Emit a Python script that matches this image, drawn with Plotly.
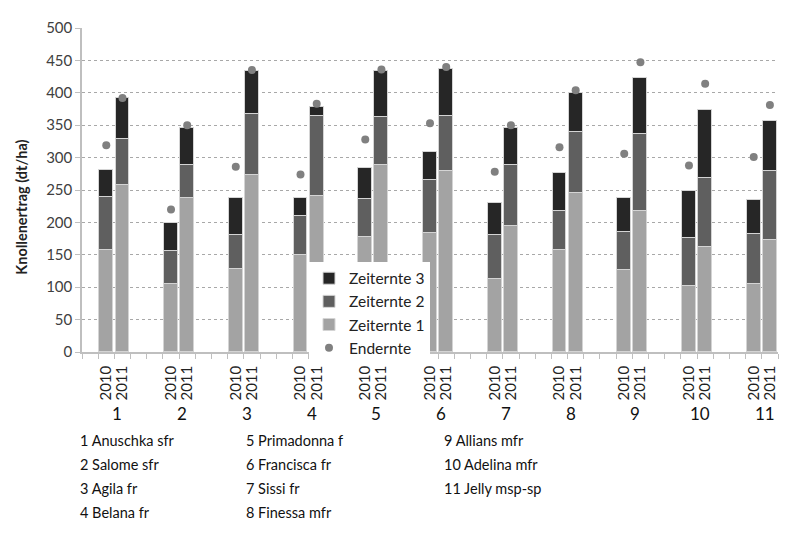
import plotly.graph_objects as go

groups = ["1", "2", "3", "4", "5", "6", "7", "8", "9", "10", "11"]
years = ["2010", "2011"]

# cumulative heights (dt/ha)
z1_2010 = [158, 105, 128, 149, 178, 184, 112, 157, 126, 102, 105]
z2top_2010 = [239, 156, 181, 210, 236, 265, 180, 218, 185, 176, 182]
tot_2010 = [281, 199, 237, 238, 284, 308, 230, 276, 237, 249, 235]
end_2010 = [319, 220, 286, 274, 328, 353, 278, 316, 306, 288, 301]

z1_2011 = [258, 238, 273, 240, 289, 279, 194, 246, 217, 162, 173]
z2top_2011 = [329, 288, 368, 364, 363, 364, 288, 340, 337, 269, 279]
tot_2011 = [392, 346, 433, 378, 434, 436, 346, 400, 423, 373, 356]
end_2011 = [392, 350, 435, 383, 436, 440, 350, 404, 447, 414, 381]

varieties = ["1 Anuschka sfr", "2 Salome sfr", "3 Agila fr", "4 Belana fr",
             "5 Primadonna f", "6 Francisca fr", "7 Sissi fr", "8 Finessa mfr",
             "9 Allians mfr", "10 Adelina mfr", "11 Jelly msp-sp"]

FONT = "Lato"
C3, C2, C1, CE = "#262626", "#5f5f5f", "#a3a3a3", "#808080"

n = len(groups)
xpos, z1, z2, z3, endv, ticktext = [], [], [], [], [], []
for g in range(n):
    for k, yr in enumerate(years):
        xpos.append(1.5 + 4 * g + k)
        ticktext.append(yr)
        if k == 0:
            a, b, c, e = z1_2010[g], z2top_2010[g], tot_2010[g], end_2010[g]
        else:
            a, b, c, e = z1_2011[g], z2top_2011[g], tot_2011[g], end_2011[g]
        z1.append(a)
        z2.append(b - a)
        z3.append(c - b)
        endv.append(e)

fig = go.Figure()
line = dict(color="#d4d4d4", width=1)
fig.add_trace(go.Bar(x=xpos, y=z1, name="Zeiternte 1", legendrank=3,
                     marker=dict(color=C1, line=line), width=0.86))
fig.add_trace(go.Bar(x=xpos, y=z2, name="Zeiternte 2", legendrank=2,
                     marker=dict(color=C2, line=line), width=0.86))
fig.add_trace(go.Bar(x=xpos, y=z3, name="Zeiternte 3", legendrank=1,
                     marker=dict(color=C3, line=line), width=0.86))
fig.add_trace(go.Scatter(x=xpos, y=endv, name="Endernte", mode="markers", legendrank=4,
                         marker=dict(color=CE, size=8)))

annotations = []
for g, lab in enumerate(groups):
    annotations.append(dict(x=2 + 4 * g, y=0, xref="x", yref="paper", text=lab,
                            showarrow=False, yanchor="middle", yshift=-61, xshift=3,
                            font=dict(family=FONT, size=17, color="#111")))

col_x = [78, 244, 442]
for i, v in enumerate(varieties):
    col, row = i // 4, i % 4
    annotations.append(dict(x=(col_x[col] - 82) / 696, y=0, xref="paper", yref="paper",
                            text=v, showarrow=False, xanchor="left", yanchor="middle",
                            yshift=-(88 + row * 24.2),
                            font=dict(family=FONT, size=14.5, color="#111")))

# y-axis title
annotations.append(dict(x=0, y=(352.5 - 208) / 324.5, xref="paper", yref="paper",
                        text="<b>Knollenertrag (dt/ha)</b>", textangle=-90, showarrow=False,
                        xanchor="center", yanchor="middle", xshift=-60,
                        font=dict(family=FONT, size=14.5, color="#222")))

fig.update_layout(
    barmode="stack",
    width=800, height=533,
    margin=dict(l=82, r=22, t=28, b=180.5),
    paper_bgcolor="white", plot_bgcolor="white",
    font=dict(family=FONT, size=14, color="#404040"),
    showlegend=True,
    legend=dict(x=(309 - 82) / 696, y=(352.5 - 262) / 324.5, xanchor="left", yanchor="top",
                bgcolor="white", traceorder="normal",
                font=dict(family=FONT, size=15.5, color="#222"),
                tracegroupgap=0, itemwidth=30),
    annotations=annotations,
    bargap=0,
)
fig.update_xaxes(range=[0, 43], tickmode="array", tickvals=xpos, ticktext=ticktext,
                 tickangle=-90, ticks="outside", ticklen=6, tickcolor="rgba(0,0,0,0)",
                 tickfont=dict(family=FONT, size=15, color="#222"),
                 showline=True, linecolor="#bfbfbf", linewidth=1.5,
                 showgrid=False, zeroline=False,
                 minor=dict(tickmode="linear", tick0=0, dtick=1, ticks="outside",
                            ticklen=5, tickcolor="#bfbfbf", showgrid=False))
fig.update_yaxes(range=[0, 500], dtick=50, ticks="outside", ticklen=5, tickcolor="#bfbfbf",
                 showline=True, linecolor="#bfbfbf", linewidth=1.5,
                 showgrid=True, gridcolor="#a8a8a8", griddash="3px,3px", gridwidth=1,
                 zeroline=False,
                 tickfont=dict(family=FONT, size=15, color="#404040"))

fig.write_html("out.html")
